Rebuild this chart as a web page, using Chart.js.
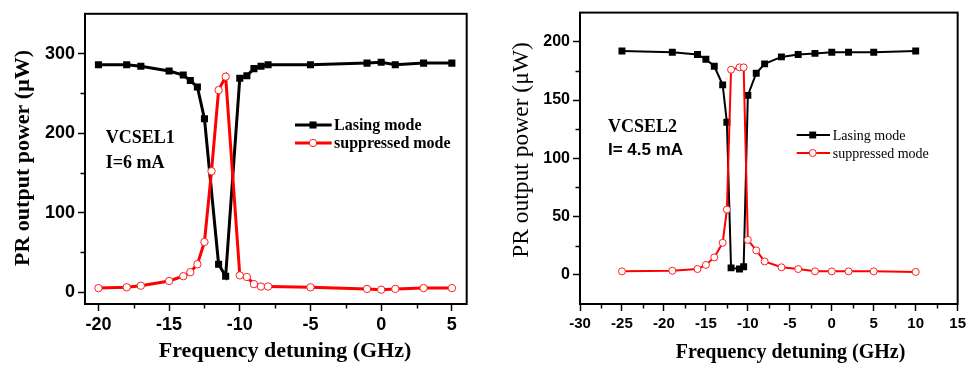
<!DOCTYPE html>
<html><head><meta charset="utf-8">
<script src="https://cdn.jsdelivr.net/npm/chart.js@4/dist/chart.umd.min.js"></script>
<style>
html,body{margin:0;padding:0;background:#fff;width:970px;height:367px;overflow:hidden}
.box{position:absolute;top:0;width:480px;height:367px}
#b1{left:0}
#b2{left:490px}
canvas{display:block}
</style></head><body>
<div class="box" id="b1"><canvas id="c1" width="480" height="367"></canvas></div>
<div class="box" id="b2"><canvas id="c2" width="480" height="367"></canvas></div>
<script>
// ---------- data ----------
const seriesNames = ['Lasing mode', 'suppressed mode'];
const xTitleText = 'Frequency detuning (GHz)';
const yTitleText = 'PR output power (\u03BCW)';

// VCSEL1 (left)
const v1Notes = ['VCSEL1', 'I=6 mA'];
const v1LasingX = [-20,-18,-17,-15,-14,-13.5,-13,-12.5,-11.5,-11,-10,-9.5,-9,-8.5,-8,-5,-1,0,1,3,5];
const v1LasingY = [286,286,284,278,273,266,258,218,35,20,269,272,281,284,286,286,288,289,286,288,288];
const v1SuppX   = [-20,-18,-17,-15,-14,-13.5,-13,-12.5,-12,-11.5,-11,-10,-9.5,-9,-8.5,-8,-5,-1,0,1,3,5];
const v1SuppY   = [5,6,8,14,20,25,35,63,152,254,271,21,19,10,7,7,6,4,3,4,5,5];
const v1XTicks = [-20,-15,-10,-5,0,5];
const v1XMinor = [-17.5,-12.5,-7.5,-2.5,2.5];
const v1YTicks = [0,100,200,300];
const v1YMinor = [50,150,250];

// VCSEL2 (right)
const v2Notes = ['VCSEL2', 'I= 4.5 mA'];
const v2LasingX = [-25,-19,-16,-15,-14,-13,-12.5,-12,-11,-10.5,-10,-9,-8,-6,-4,-2,0,2,5,10];
const v2LasingY = [192,191,189,185,179,163,131,6,5,7,154,173,181,187,189,190,191,191,191,192];
const v2SuppX   = [-25,-19,-16,-15,-14,-13,-12.5,-12,-11,-10.5,-10,-9,-8,-6,-4,-2,0,2,5,10];
const v2SuppY   = [3,3.5,5,8.5,15,27.5,56,176,178,178,30,21,11.5,6.5,5,3,3,3,3,2.5];
const v2XTicks = [-30,-25,-20,-15,-10,-5,0,5,10,15];
const v2XMinor = [-27.5,-22.5,-17.5,-12.5,-7.5,-2.5,2.5,7.5,12.5];
const v2YTicks = [0,50,100,150,200];
const v2YMinor = [25,75,125,175];

// ---------- helpers ----------
function pts(xs, ys){ return xs.map((x,i)=>({x:x, y:ys[i]})); }

function decor(d){
  return {
    id:'decor',
    afterDraw(chart){
      const ctx = chart.ctx, a = chart.chartArea, xs = chart.scales.x, ys = chart.scales.y;
      ctx.save();
      ctx.strokeStyle = '#000';
      ctx.lineWidth = 2;
      ctx.strokeRect(a.left, a.top, a.right - a.left, a.bottom - a.top);
      ctx.lineWidth = d.tickW;
      d.xMinor.forEach(v=>{
        const p = Math.round(xs.getPixelForValue(v)) + 0.5;
        ctx.beginPath(); ctx.moveTo(p, a.bottom); ctx.lineTo(p, a.bottom + d.minorLen); ctx.stroke();
      });
      d.yMinor.forEach(v=>{
        const p = Math.round(ys.getPixelForValue(v)) + 0.5;
        ctx.beginPath(); ctx.moveTo(a.left, p); ctx.lineTo(a.left - d.minorLen, p); ctx.stroke();
      });
      ctx.fillStyle = '#000';
      // titles
      ctx.font = d.xTitle.font; ctx.textAlign = 'center'; ctx.textBaseline = 'alphabetic';
      ctx.fillText(xTitleText, d.xTitle.x, d.xTitle.y);
      ctx.save();
      ctx.translate(d.yTitle.x, d.yTitle.y); ctx.rotate(-Math.PI/2);
      ctx.font = d.yTitle.font; ctx.textAlign = 'center';
      ctx.fillText(yTitleText, 0, 0);
      ctx.restore();
      // notes
      ctx.textAlign = 'left';
      d.notes.forEach((n,i)=>{ ctx.font = n.font; ctx.fillText(d.noteTexts[i], n.x, n.y); });
      // legend
      const L = d.legend;
      chart.data.datasets.forEach((ds,i)=>{
        const r = L.rows[i];
        ctx.strokeStyle = ds.borderColor; ctx.lineWidth = L.lw;
        ctx.beginPath(); ctx.moveTo(L.x0, r.ly); ctx.lineTo(L.x1, r.ly); ctx.stroke();
        if (ds.pointStyle === 'rect'){
          const s = ds.pointRadius * Math.SQRT2;
          ctx.fillStyle = ds.pointBackgroundColor;
          ctx.fillRect(L.mx - s/2, r.ly - s/2, s, s);
        } else {
          ctx.beginPath(); ctx.arc(L.mx, r.ly, ds.pointRadius, 0, Math.PI*2);
          ctx.fillStyle = ds.pointBackgroundColor; ctx.fill();
          ctx.lineWidth = ds.pointBorderWidth; ctx.strokeStyle = ds.pointBorderColor; ctx.stroke();
        }
        ctx.fillStyle = '#000'; ctx.font = L.font; ctx.textAlign = 'left';
        ctx.fillText(ds.label, L.tx, r.ty);
      });
      ctx.restore();
    }
  };
}

function makeChart(id, c){
  const tickFontX = {family:'Liberation Sans', weight:'bold', size:c.tickSizeX};
  const tickFontY = {family:'Liberation Sans', weight:'bold', size:c.tickSizeY};
  return new Chart(document.getElementById(id), {
    type:'scatter',
    data:{ datasets:[
      { label:seriesNames[0], data:pts(c.lasX, c.lasY), showLine:true, borderColor:'#000000',
        borderWidth:c.lw, pointStyle:'rect', pointRadius:c.sq, pointBackgroundColor:'#000000',
        pointBorderColor:'#000000', pointBorderWidth:0, tension:0, order:1 },
      { label:seriesNames[1], data:pts(c.supX, c.supY), showLine:true, borderColor:'#ff0000',
        borderWidth:c.lw, pointStyle:'circle', pointRadius:c.ci, pointBackgroundColor:'#ffffff',
        pointBorderColor:'#ff2020', pointBorderWidth:1, tension:0, order:0 }
    ]},
    options:{
      responsive:false, animation:false, devicePixelRatio:1,
      layout:{ padding:c.pad },
      plugins:{ legend:{display:false}, tooltip:{enabled:false} },
      scales:{
        x:{ type:'linear', min:c.xmin, max:c.xmax,
          afterBuildTicks: ax => { ax.ticks = c.xTicks.map(v=>({value:v})); },
          afterFit: ax => { ax.height = 63; },
          ticks:{ font:tickFontX, color:'#000', padding:c.xPad, maxRotation:0, autoSkip:false, callback:v=>String(v) },
          grid:{ drawOnChartArea:false, drawTicks:true, tickLength:7, tickColor:'#000', tickWidth:1.5 },
          border:{ display:true, color:'#000', width:2 } },
        y:{ type:'linear', min:c.ymin, max:c.ymax,
          afterBuildTicks: ax => { ax.ticks = c.yTicks.map(v=>({value:v})); },
          afterFit: ax => { ax.width = c.yW; },
          ticks:{ font:tickFontY, color:'#000', padding:3, autoSkip:false, callback:v=>String(v) },
          grid:{ drawOnChartArea:false, drawTicks:true, tickLength:7, tickColor:'#000', tickWidth:1.5 },
          border:{ display:true, color:'#000', width:2 } }
      }
    },
    plugins:[ decor(c.deco) ]
  });
}

makeChart('c1', {
  lasX:v1LasingX, lasY:v1LasingY, supX:v1SuppX, supY:v1SuppY,
  xTicks:v1XTicks, yTicks:v1YTicks, xmin:-20.95, xmax:6.05, ymin:-15, ymax:350,
  lw:3, sq:5, ci:3.7, tickSizeX:18, tickSizeY:18, xPad:3, yW:85,
  pad:{left:0, right:13.3, top:13.3, bottom:0},
  deco:{
    xMinor:v1XMinor, yMinor:v1YMinor, minorLen:4.5, tickW:1.5,
    xTitle:{font:'bold 22px "Liberation Serif"', x:285, y:357},
    yTitle:{font:'bold 22px "Liberation Serif"', x:28.5, y:158},
    noteTexts:v1Notes,
    notes:[{font:'bold 18px "Liberation Serif"', x:105.7, y:143},
           {font:'bold 18px "Liberation Serif"', x:105.7, y:168}],
    legend:{x0:295, x1:331.7, mx:313, tx:334, lw:3, font:'bold 16px "Liberation Serif"',
            rows:[{ly:125, ty:130},{ly:143, ty:148}]}
  }
});

makeChart('c2', {
  lasX:v2LasingX, lasY:v2LasingY, supX:v2SuppX, supY:v2SuppY,
  xTicks:v2XTicks, yTicks:v2YTicks, xmin:-30, xmax:15, ymin:-25, ymax:225,
  lw:2, sq:4.9, ci:3.5, tickSizeX:15, tickSizeY:16, xPad:4, yW:90,
  pad:{left:0, right:8.5, top:6, bottom:0},
  deco:{
    xMinor:v2XMinor, yMinor:v2YMinor, minorLen:4.5, tickW:1.5,
    xTitle:{font:'bold 20px "Liberation Serif"', x:300.5, y:358},
    yTitle:{font:'23.5px "Liberation Serif"', x:38, y:150},
    noteTexts:v2Notes,
    notes:[{font:'bold 18px "Liberation Serif"', x:118, y:132},
           {font:'bold 17px "Liberation Sans"', x:118, y:155}],
    legend:{x0:306.7, x1:340, mx:322.7, tx:342.7, lw:2, font:'14px "Liberation Serif"',
            rows:[{ly:135, ty:139.5},{ly:153, ty:157.5}]}
  }
});
</script>
</body></html>
